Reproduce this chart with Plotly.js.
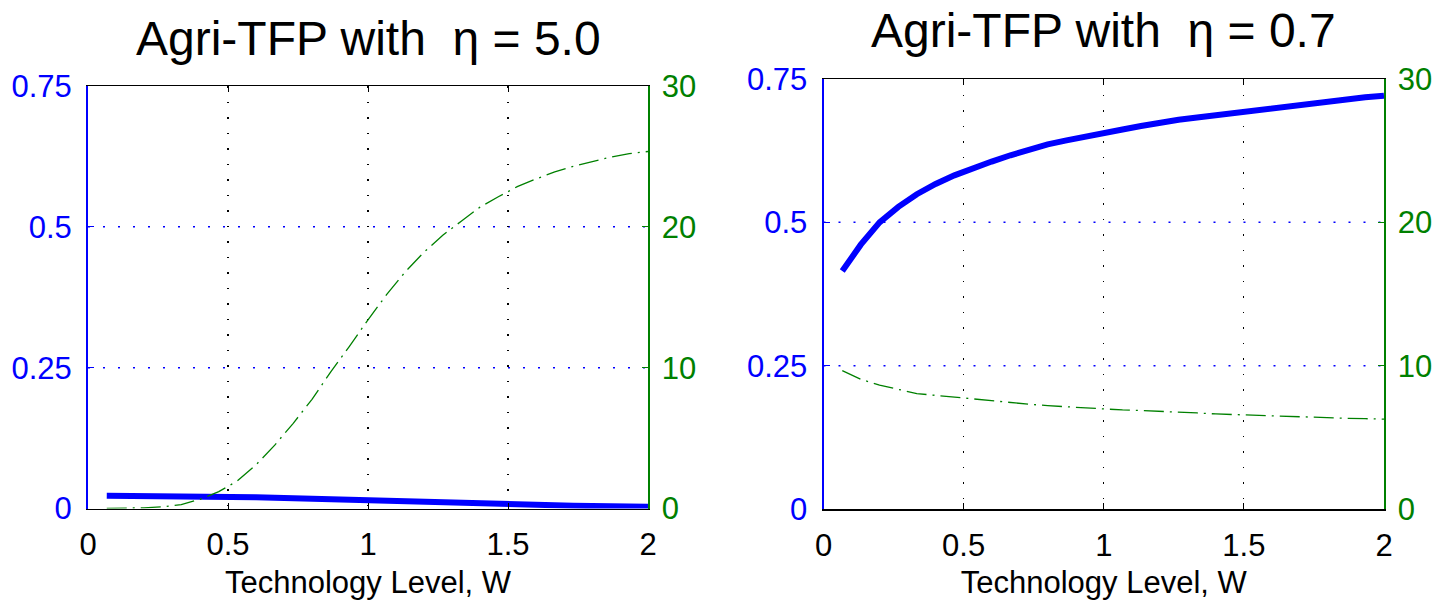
<!DOCTYPE html>
<html>
<head>
<meta charset="utf-8">
<script src="https://cdn.plot.ly/plotly-3.0.1.min.js"></script>
<style>html,body{margin:0;padding:0;background:#fff;}#chart{width:1433px;height:600px;}</style>
</head>
<body>
<div id="chart"></div>
<script>
// Technology level grid
const techW = [0.067,0.133,0.2,0.267,0.333,0.4,0.467,0.533,0.6,0.667,0.733,0.8,0.867,0.933,1.0,
               1.067,1.133,1.2,1.267,1.333,1.4,1.467,1.533,1.6,1.667,1.733,1.8,1.867,1.933,2.0];

// Left panel (eta = 5.0)
const tfpEta50 = [0.0225,0.0225,0.0225,0.0224,0.0222,0.0218,0.0213,0.0207,0.0199,0.019,0.018,0.017,0.016,0.015,0.014,
                  0.0128,0.0117,0.0106,0.0096,0.0087,0.0079,0.0072,0.0065,0.0059,0.0053,0.0048,0.0043,0.0039,0.0035,0.0031];
const rightEta50 = [0.0,0.02,0.05,0.12,0.28,0.65,1.2,1.95,3.1,4.5,6.05,7.75,9.7,11.5,13.4,
                    15.2,16.8,18.2,19.4,20.4,21.4,22.15,22.85,23.4,23.9,24.3,24.65,24.95,25.2,25.35];

// Right panel (eta = 0.7)
const tfpEta07 = [0.415,0.461,0.5,0.527,0.549,0.567,0.582,0.595,0.606,0.617,0.627,0.636,0.643,0.65,0.656,
                  0.662,0.668,0.674,0.679,0.683,0.687,0.692,0.696,0.7,0.704,0.708,0.711,0.714,0.718,0.721];
const rightEta07 = [9.65,9.05,8.65,8.35,8.05,7.93,7.8,7.67,7.54,7.42,7.31,7.21,7.13,7.05,6.98,
                    6.91,6.87,6.83,6.78,6.7,6.63,6.58,6.53,6.48,6.44,6.4,6.36,6.33,6.3,6.27];

const titles = ['Agri-TFP with  \u03b7 = 5.0', 'Agri-TFP with  \u03b7 = 0.7'];
const xLabel = 'Technology Level, W';
const leftTicks = [0, 0.25, 0.5, 0.75];
const leftTickText = ['0', '0.25', '0.5', '0.75'];
const leftGrid = [0.25, 0.5];
const rightTicks = [0, 10, 20, 30];
const xTicks = [0, 0.5, 1, 1.5, 2];
const xTickText = ['0', '0.5', '1', '1.5', '2'];

const FONT = 'Liberation Sans, Arial, sans-serif';
const BLUE = '#0000ff';
const GREEN = '#008000';
const TICKSZ = 31;

function blueTrace(y, xa, ya) {
  return {x: techW, y: y, xaxis: xa, yaxis: ya, type: 'scatter', mode: 'lines',
          line: {color: BLUE, width: 6}, hoverinfo: 'skip'};
}
function greenTrace(y, xa, ya) {
  return {x: techW, y: y, xaxis: xa, yaxis: ya, type: 'scatter', mode: 'lines',
          line: {color: GREEN, width: 1.3, dash: '20px,6px,2px,6px'}, hoverinfo: 'skip'};
}

const data = [
  greenTrace(rightEta50, 'x', 'y2'),
  blueTrace(tfpEta50, 'x', 'y'),
  greenTrace(rightEta07, 'x2', 'y4'),
  blueTrace(tfpEta07, 'x2', 'y3')
];

function xAxis(domain, anchor) {
  return {domain: domain, anchor: anchor, range: [0, 2], tickvals: xTicks, ticktext: xTickText,
          showline: true, linecolor: '#000', linewidth: 1.5, mirror: 'ticks', ticks: 'inside', ticklen: 6,
          tickcolor: '#000', showgrid: true, gridcolor: '#000', griddash: '1.5px,14px', gridwidth: 1.2,
          zeroline: false, ticklabelstandoff: 8, tickfont: {family: FONT, size: TICKSZ, color: '#000'},
          title: {text: xLabel, font: {family: FONT, size: 31, color: '#000'}, standoff: 10}};
}
function yLeft(domain, anchor) {
  return {domain: domain, anchor: anchor, range: [0, 0.75], tickvals: leftTicks, ticktext: leftTickText,
          showline: true, linecolor: BLUE, linewidth: 2, ticks: 'inside', ticklen: 6, tickcolor: BLUE,
          showgrid: false, zeroline: false,
          ticklabelstandoff: 8, tickfont: {family: FONT, size: TICKSZ, color: BLUE}};
}
function yRight(overlay, anchor) {
  return {overlaying: overlay, anchor: anchor, side: 'right', range: [0, 30], tickvals: rightTicks,
          showline: true, linecolor: GREEN, linewidth: 1.5, ticks: 'inside', ticklen: 6, tickcolor: GREEN,
          showgrid: false, zeroline: false, ticklabelstandoff: 6,
          tickfont: {family: FONT, size: TICKSZ, color: GREEN}};
}

const shapes = [];
[['x', 'y'], ['x2', 'y3']].forEach(([xa, ya]) => {
  leftGrid.forEach(v => {
    shapes.push({type: 'line', layer: 'below', xref: xa + ' domain', yref: ya,
                 x0: 0, x1: 1, y0: v, y1: v,
                 line: {color: BLUE, width: 1.5, dash: '2px,13px'}});
  });
});

const layout = {
  width: 1433, height: 600,
  margin: {l: 0, r: 0, t: 0, b: 0},
  paper_bgcolor: '#fff', plot_bgcolor: '#fff',
  showlegend: false,
  xaxis: xAxis([88/1433, 648/1433], 'y'),
  yaxis: yLeft([1 - 508.5/600, 1 - 86/600], 'x'),
  yaxis2: yRight('y', 'x'),
  xaxis2: xAxis([823.5/1433, 1384/1433], 'y3'),
  yaxis3: yLeft([1 - 509/600, 1 - 79/600], 'x2'),
  yaxis4: yRight('y3', 'x2'),
  shapes: shapes,
  annotations: [
    {text: titles[0], xref: 'paper', yref: 'paper', x: 369/1433, y: 1 - 38/600,
     xanchor: 'center', yanchor: 'middle', showarrow: false, font: {family: FONT, size: 48, color: '#000'}},
    {text: titles[1], xref: 'paper', yref: 'paper', x: 1103/1433, y: 1 - 30/600,
     xanchor: 'center', yanchor: 'middle', showarrow: false, font: {family: FONT, size: 48, color: '#000'}}
  ]
};

Plotly.newPlot('chart', data, layout, {staticPlot: true, displayModeBar: false});
</script>
</body>
</html>
